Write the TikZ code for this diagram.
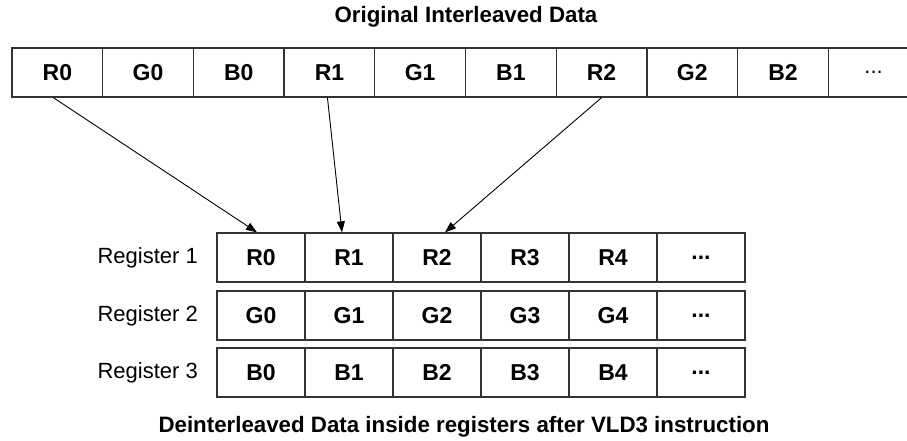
\documentclass[tikz,border=0pt]{standalone}
\usepackage{fontspec}
\setmainfont{Liberation Sans}
\usetikzlibrary{arrows.meta}
\begin{document}
\begin{tikzpicture}[x=1pt,y=-1pt,
  cell/.style={draw=black!80, line width=1.3pt, minimum width=90.7pt, minimum height=49pt, inner sep=0pt, font=\fontsize{23}{27}\selectfont\bfseries},
  rcell/.style={cell, minimum width=88pt},
  reglabel/.style={anchor=east, inner sep=0pt, font=\fontsize{22}{26}\selectfont},
  title/.style={inner sep=0pt, font=\fontsize{22.3}{26}\selectfont\bfseries},
  arr/.style={-{Triangle[length=11pt,width=8pt]}, line width=0.9pt, black}]
\clip (0,0) rectangle (907,441);
\fill[white] (0,0) rectangle (907,441);
\node[title] (ttl) at (466,17) {Original Interleaved Data};
\foreach \t [count=\i from 0] in {R0,G0,B0,R1,G1,B1,R2,G2,B2}{
  \node[cell] (t\i) at (12+45.35+90.7*\i,72.5) {\t};
}
\node[cell, font=\fontsize{22}{26}\selectfont] (t9) at (12+45.35+90.7*9,72.5) {\char46\char46\char46};
\foreach \row/\y/\c in {1/257.5/R,2/315.5/G,3/372.5/B}{
  \node[reglabel] (lab\row) at (198,\y) {Register \row};
  \foreach \i in {0,1,2,3,4}{
    \node[rcell] (r\row-\i) at (261+88*\i,\y) {\c\i};
  }
  \node[rcell] (r\row-5) at (261+88*5,\y) {\char46\char46\char46};
}
\node[title] (btm) at (464,427) {Deinterleaved Data inside registers after VLD3 instruction};
\draw[arr] ([xshift=-4pt]t0.south) -- ([xshift=-4pt]r1-0.north);
\draw[arr] ([xshift=-2pt]t3.south) -- ([xshift=-7pt]r1-1.north);
\draw[arr] (t6.south) -- ([xshift=8pt]r1-2.north);
\end{tikzpicture}
\end{document}
